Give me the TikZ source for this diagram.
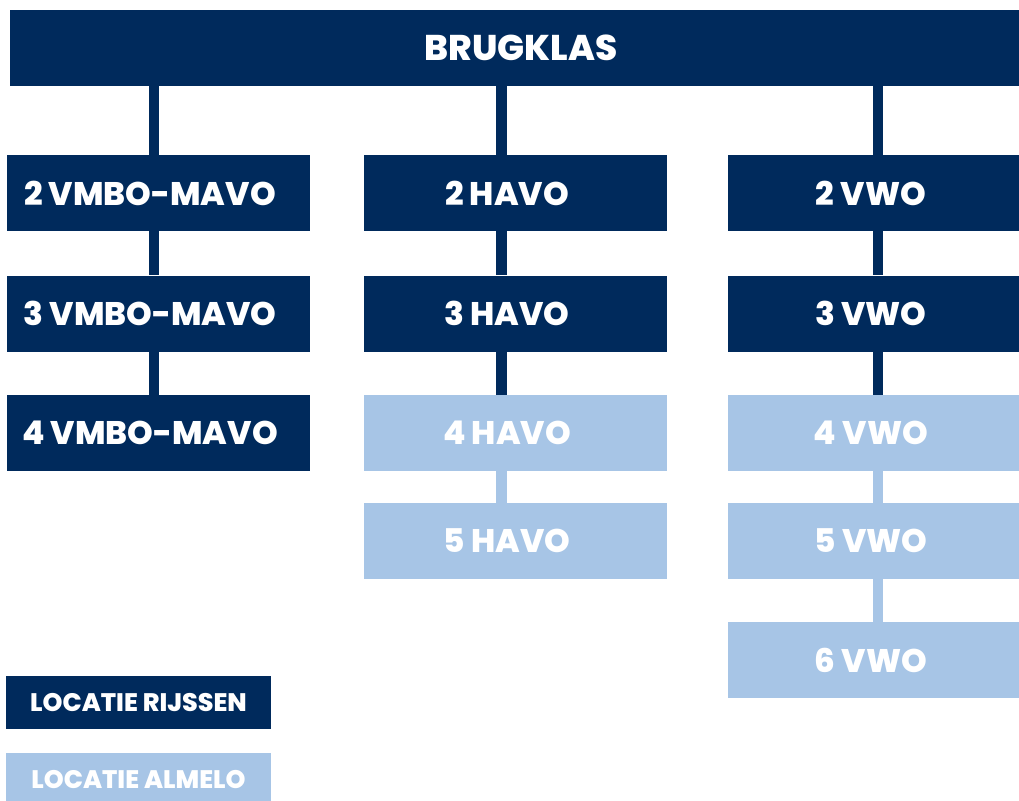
\documentclass[tikz,border=0pt]{standalone}
\usepackage{fontspec}
\setmainfont{Poppins}[BoldFont={Poppins ExtraBold}]
\definecolor{navy}{HTML}{002A5C}
\definecolor{sky}{HTML}{A7C5E6}
\begin{document}
\begin{tikzpicture}[x=0.75pt,y=-0.75pt,
  box/.style={rectangle, inner sep=0pt, minimum width=227.25pt, minimum height=57pt,
    font=\bfseries\fontsize{24.5}{28}\selectfont, text=white,
    execute at begin node={\kern-12.8pt}},
  dark/.style={box, fill=navy},
  light/.style={box, fill=sky},
  topbar/.style={rectangle, inner sep=0pt, minimum width=756.75pt, minimum height=57pt,
    fill=navy, text=white, font=\bfseries\fontsize{26.8}{30}\selectfont,
    execute at begin node={\kern9.75pt}},
  legend/.style={rectangle, inner sep=0pt, minimum width=198.75pt, minimum height=39.75pt,
    text=white, font=\bfseries\fontsize{19}{22}\selectfont},
  conn/.style={line width=7.9pt}]
\useasboundingbox (0,0) rectangle (1019,800);

\node[topbar] (top) at (514.5,48) {BRUGKLAS};

\node[dark]  (v2) at (158.5,193)   {2 VMBO-MAVO};
\node[dark]  (v3) at (158.5,313.5) {3 VMBO-MAVO};
\node[dark]  (v4) at (158.5,433)   {4 VMBO-MAVO};

\node[dark]  (h2) at (515.5,193)   {2 HAVO};
\node[dark]  (h3) at (515.5,313.5) {3 HAVO};
\node[light] (h4) at (515.5,433)   {4 HAVO};
\node[light] (h5) at (515.5,541)   {5 HAVO};

\node[dark]  (w2) at (879.5,193)   {2 VWO};
\node[dark]  (w3) at (879.5,313.5) {3 VWO};
\node[light] (w4) at (879.5,433)   {4 VWO};
\node[light] (w5) at (879.5,541)   {5 VWO};
\node[light] (w6) at (879.5,660)   {6 VWO};

\node[legend, fill=navy] (lr) at (138.5,702.5) {LOCATIE RIJSSEN};
\node[legend, fill=sky]  (la) at (138.5,779.5) {LOCATIE ALMELO};

\coordinate (k1) at (154,0);
\coordinate (k2) at (501.5,0);
\coordinate (k3) at (878,0);

\draw[conn, navy] (top.south -| k1) -- (v2.north -| k1);
\draw[conn, navy] (v2.south -| k1) -- (v3.north -| k1);
\draw[conn, navy] (v3.south -| k1) -- (v4.north -| k1);

\draw[conn, navy] (top.south -| k2) -- (h2.north -| k2);
\draw[conn, navy] (h2.south -| k2) -- (h3.north -| k2);
\draw[conn, navy] (h3.south -| k2) -- (h4.north -| k2);
\draw[conn, sky]  (h4.south -| k2) -- (h5.north -| k2);

\draw[conn, navy] (top.south -| k3) -- (w2.north -| k3);
\draw[conn, navy] (w2.south -| k3) -- (w3.north -| k3);
\draw[conn, navy] (w3.south -| k3) -- (w4.north -| k3);
\draw[conn, sky]  (w4.south -| k3) -- (w5.north -| k3);
\draw[conn, sky]  (w5.south -| k3) -- (w6.north -| k3);
\end{tikzpicture}
\end{document}
